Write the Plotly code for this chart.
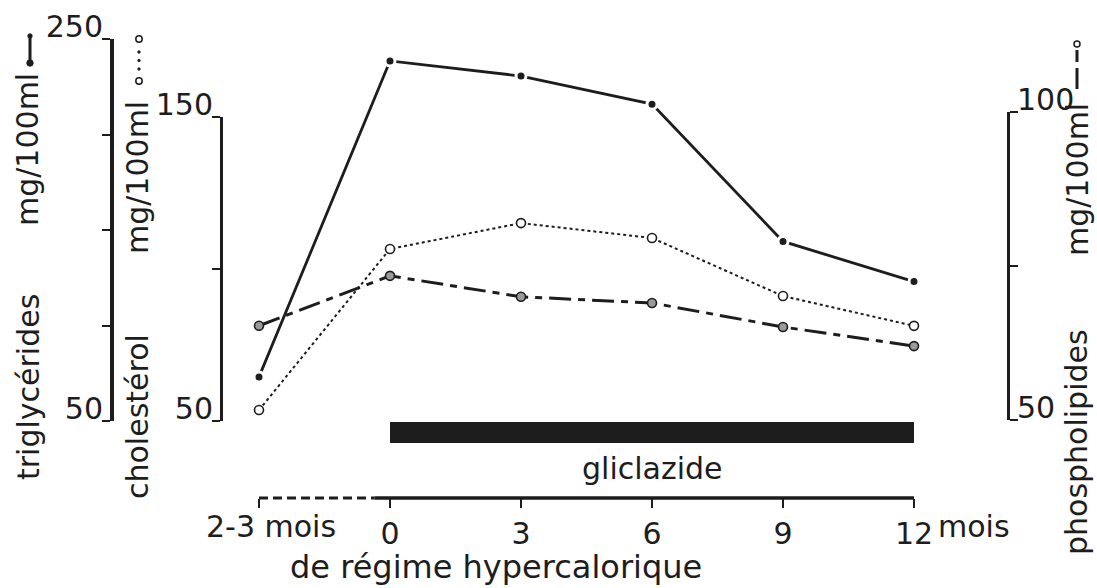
import plotly.graph_objects as go

# ---------------- data ----------------
months = [-3, 0, 3, 6, 9, 12]
month_ticktext = ["", "0", "3", "6", "9", "12"]
triglycerides = [73.1, 238.5, 230.6, 215.9, 144.0, 123.0]   # mg/100ml
cholesterol = [53.6, 106.6, 115.1, 110.2, 91.1, 81.3]       # mg/100ml
phospholipids = [65.3, 73.4, 70.0, 69.0, 65.1, 62.0]        # mg/100ml
tg_ticks = [50, 100, 150, 200, 250]
tg_ticktext = ["50", "", "", "", "250"]
chol_ticks = [50, 100, 150]
chol_ticktext = ["50", "", "150"]
pl_ticks = [50, 75, 100]
pl_ticktext = ["50", "", "100"]
gliclazide_period = [0, 12]

# ---------------- layout helpers ----------------
W, H = 1097, 588
INK = "#1d1d1d"
FONT = "DejaVu Sans"
FS = 30


def xp(px):
    return px / W


def yp(py):
    return 1 - py / H


k = (914 - 390) / 12.0  # pixels per month
x_range = [0 - 390 / k, (W - 390) / k]

fig = go.Figure()

fig.add_trace(go.Scatter(
    x=months, y=triglycerides, yaxis="y", mode="lines+markers",
    line=dict(color=INK, width=2.8),
    marker=dict(size=10, color=INK, line=dict(color="white", width=3)),
    cliponaxis=False, name="triglycérides"))

fig.add_trace(go.Scatter(
    x=months, y=cholesterol, yaxis="y2", mode="lines+markers",
    line=dict(color=INK, width=2, dash="3px,3px"),
    marker=dict(size=9, color="white", line=dict(color=INK, width=1.6)),
    cliponaxis=False, name="cholestérol"))

fig.add_trace(go.Scatter(
    x=months, y=phospholipids, yaxis="y3", mode="lines+markers",
    line=dict(color=INK, width=3, dash="22px,7px,7px,7px"),
    marker=dict(size=9, color="#9a9a9a", line=dict(color=INK, width=1.6)),
    cliponaxis=False, name="phospholipides"))

axis_font = dict(family=FONT, size=FS, color=INK)
common_y = dict(showgrid=False, zeroline=False, showline=True, linecolor=INK,
                ticks="outside", ticklen=8, tickwidth=2, tickcolor=INK,
                tickfont=axis_font, anchor="free", ticklabelshift=-13,
                ticklabelstandoff=-7, automargin=False)

fig.update_layout(
    width=W, height=H, autosize=False,
    margin=dict(l=0, r=0, t=0, b=0, pad=0, autoexpand=False),
    paper_bgcolor="white", plot_bgcolor="rgba(0,0,0,0)",
    showlegend=False,
    font=dict(family=FONT, size=FS, color=INK),
    xaxis=dict(domain=[0, 1], range=x_range, showgrid=False, zeroline=False,
               showline=False, anchor="free", position=yp(498),
               tickmode="array", tickvals=months, ticktext=month_ticktext,
               ticks="outside", ticklen=9, tickwidth=2, tickcolor=INK,
               tickfont=axis_font, automargin=False),
    yaxis=dict(domain=[yp(421), yp(39)], range=[50, 250], side="left",
               position=xp(112), linewidth=4, tickmode="array",
               tickvals=tg_ticks, ticktext=tg_ticktext, **common_y),
    yaxis2=dict(domain=[yp(421), yp(117)], range=[50, 150], side="left",
                position=xp(221), linewidth=3, tickmode="array",
                tickvals=chol_ticks, ticktext=chol_ticktext, **common_y),
    yaxis3=dict(domain=[yp(420), yp(112)], range=[50, 100], side="right",
                position=xp(1008), linewidth=3, tickmode="array",
                tickvals=pl_ticks, ticktext=pl_ticktext, **common_y),
)

shapes = []
# x axis line: dashed during the diet period, solid during treatment
shapes.append(dict(type="line", xref="x", yref="paper",
                   x0=months[0], x1=months[1] - 0.35, y0=yp(498), y1=yp(498),
                   line=dict(color=INK, width=3, dash="9px,5px")))
shapes.append(dict(type="line", xref="x", yref="paper",
                   x0=months[1] - 0.35, x1=months[-1], y0=yp(498), y1=yp(498),
                   line=dict(color=INK, width=3.5)))
# gliclazide treatment bar
shapes.append(dict(type="rect", xref="x", yref="paper",
                   x0=gliclazide_period[0], x1=gliclazide_period[1],
                   y0=yp(443), y1=yp(422), fillcolor=INK, line=dict(width=0)))


def dot(cx, cy, r, fill, lw=1.5):
    return dict(type="circle", xref="paper", yref="paper",
                x0=xp(cx - r), x1=xp(cx + r), y0=yp(cy + r), y1=yp(cy - r),
                fillcolor=fill, line=dict(color=INK, width=lw))


def vline(cx, y0, y1, w=3, dash="solid"):
    return dict(type="line", xref="paper", yref="paper",
                x0=xp(cx), x1=xp(cx), y0=yp(y0), y1=yp(y1),
                line=dict(color=INK, width=w, dash=dash))


# legend keys drawn next to the vertical titles
shapes += [vline(30, 37, 62), dot(30, 36, 2.2, INK, 1), dot(30, 63, 3.2, INK, 1)]
shapes += [dot(139, 39, 3.2, "white"), dot(139, 81, 3.2, "white"),
           dot(139, 52, 1.2, INK, 1), dot(139, 60.5, 1.2, INK, 1),
           dot(139, 69, 1.2, INK, 1)]
shapes += [dot(1077, 44, 3, "white"), vline(1077, 50, 62), vline(1077, 68, 89)]
fig.update_layout(shapes=shapes)

ann = []


def rot(text, cx, cy):
    ann.append(dict(text=text, xref="paper", yref="paper", x=xp(cx), y=yp(cy),
                    xanchor="center", yanchor="middle", textangle=-90,
                    showarrow=False, font=dict(family=FONT, size=FS, color=INK)))


rot("triglycérides", 28, 387)
rot("mg/100ml", 28, 150)
rot("cholestérol", 137, 417)
rot("mg/100ml", 137, 178)
rot("phospholipides", 1077, 442)
rot("mg/100ml", 1077, 180)


def txt(text, x, y, xref="paper", xanchor="center", xshift=0, size=FS):
    ann.append(dict(text=text, xref=xref, yref="paper", x=x, y=y,
                    xanchor=xanchor, yanchor="middle", xshift=xshift,
                    showarrow=False, font=dict(family=FONT, size=size, color=INK)))


txt("gliclazide", sum(gliclazide_period) / 2, yp(468), xref="x")
txt("2-3 mois", months[0], yp(526), xref="x", xshift=12)
txt("mois", months[-1], yp(526), xref="x", xanchor="left", xshift=22)
txt("de régime hypercalorique", xp(496), yp(567), size=32)
fig.update_layout(annotations=ann)

fig.write_html("out.html")
